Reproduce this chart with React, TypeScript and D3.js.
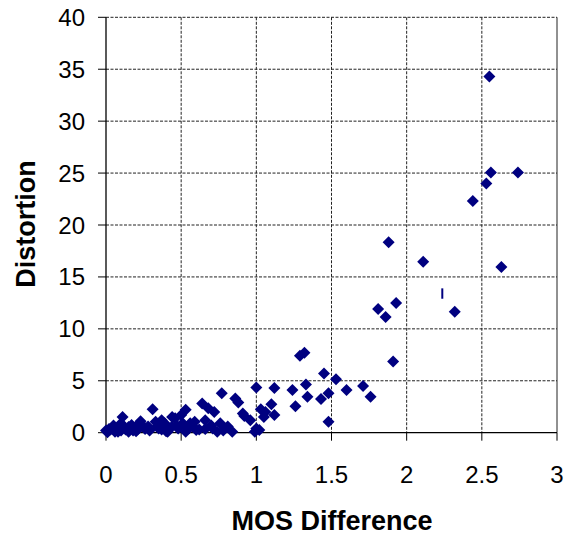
import React from "react";
import * as d3 from "d3";

const xTicks = [0, 0.5, 1, 1.5, 2, 2.5, 3];
const yTicks = [0, 5, 10, 15, 20, 25, 30, 35, 40];
const xTickLabels = ["0", "0.5", "1", "1.5", "2", "2.5", "3"];

const mosDiff = [
  0.0, 0.01, 0.03, 0.05, 0.06, 0.08, 0.10, 0.11, 0.13, 0.15, 0.17, 0.18, 0.21, 0.23, 0.25, 0.28, 0.29, 0.31, 0.33, 0.35,
  0.37, 0.39, 0.41, 0.44, 0.46, 0.48, 0.50, 0.51, 0.53, 0.53, 0.55, 0.56, 0.59, 0.60, 0.62, 0.64, 0.66, 0.68, 0.71, 0.72,
  0.74, 0.76, 0.77, 0.81, 0.86, 0.88, 0.91, 0.92, 0.96, 0.99, 1.00, 1.00, 1.02, 1.03, 1.05, 1.06, 1.10, 1.12, 1.12, 1.24,
  1.26, 1.29, 1.32, 1.33, 1.34, 1.43, 1.45, 1.48, 1.48, 1.53, 1.60, 1.71, 1.76, 1.81, 1.86, 1.88, 1.91, 1.93, 2.11, 2.32,
  2.44, 2.53, 2.55, 2.56, 2.63, 2.74,
  0.02, 0.06, 0.10, 0.15, 0.21, 0.26, 0.34, 0.37, 0.44, 0.58, 0.66, 0.70, 0.78, 0.84, 0.20, 0.40, 0.47, 0.12,
];
const distortion = [
  0.2, 0.05, 0.3, 0.7, 0.1, 0.1, 0.9, 1.5, 0.3, 0.1, 0.75, 0.2, 0.3, 1.1, 0.6, 0.6, 0.2, 2.25, 1.05, 0.4,
  1.2, 0.9, 0.1, 1.5, 1.4, 0.4, 1.7, 0.9, 2.2, 0.1, 0.4, 0.9, 1.05, 0.25, 0.3, 2.8, 1.2, 2.35, 0.4, 2.0,
  0.1, 0.9, 3.8, 0.6, 3.3, 2.9, 1.85, 1.6, 1.2, 0.1, 0.4, 4.35, 0.25, 2.25, 1.5, 2.0, 2.75, 1.7, 4.3, 4.1,
  2.55, 7.4, 7.7, 4.65, 3.45, 3.25, 5.7, 3.8, 1.05, 5.15, 4.1, 4.5, 3.45, 11.9, 11.15, 18.35, 6.85, 12.5, 16.45, 11.65,
  22.3, 24.0, 34.3, 25.05, 15.95, 25.05,
  0.35, 0.45, 0.2, 0.55, 0.75, 0.35, 0.6, 0.3, 0.6, 0.55, 0.35, 0.7, 0.2, 0.1, 0.15, 0.15, 0.7, 0.5,
];
// stray vertical dash mark in the reference
const dashX = [2.237];
const dashYLow = [12.9];
const dashYHigh = [13.9];

const W = 566;
const H = 535;
const left = 106;
const right = 557;
const top = 17.3;
const bottom = 432.7;

export default function App() {
  const x = d3.scaleLinear().domain([0, 3]).range([left, right]);
  const y = d3.scaleLinear().domain([0, 40]).range([bottom, top]);
  const diamond = "M0,-6L6,0L0,6L-6,0Z";
  const font = "Arial, 'Liberation Sans', sans-serif";

  return (
    <svg width={W} height={H} style={{ position: "absolute", left: 0, top: 0, background: "#fff" }} fontFamily={font}>
      {/* horizontal gridlines */}
      {yTicks.filter((t) => t > 0).map((t) => (
        <line key={"gy" + t} x1={left} x2={right} y1={y(t)} y2={y(t)} stroke="#222" strokeWidth={1} strokeDasharray="3,1.5" />
      ))}
      {/* vertical gridlines */}
      {xTicks.filter((t) => t > 0 && t < 3).map((t) => (
        <line key={"gx" + t} x1={x(t)} x2={x(t)} y1={top} y2={bottom} stroke="#222" strokeWidth={1} strokeDasharray="3,1.5" />
      ))}
      <line x1={right} x2={right} y1={top} y2={bottom} stroke="#222" strokeWidth={1} />
      {/* axes */}
      <line x1={left} x2={left} y1={top} y2={bottom} stroke="#000" strokeWidth={1.3} />
      <line x1={left} x2={right} y1={bottom} y2={bottom} stroke="#000" strokeWidth={1.3} />
      {yTicks.map((t) => (
        <g key={"ty" + t}>
          <line x1={left - 8} x2={left} y1={y(t)} y2={y(t)} stroke="#000" strokeWidth={1} />
          <text x={85} y={y(t) + 8.5} textAnchor="end" fontSize={24} fill="#000">{t}</text>
        </g>
      ))}
      {xTicks.map((t, i) => (
        <g key={"tx" + t}>
          <line x1={x(t)} x2={x(t)} y1={bottom} y2={bottom + 8} stroke="#000" strokeWidth={1} />
          <text x={x(t)} y={483} textAnchor="middle" fontSize={24} fill="#000">{xTickLabels[i]}</text>
        </g>
      ))}
      {/* points */}
      {mosDiff.map((v, i) => (
        <path key={"p" + i} d={diamond} transform={`translate(${x(v)},${y(distortion[i])})`} fill="#000080" />
      ))}
      {dashX.map((v, i) => (
        <line key={"d" + i} x1={x(v)} x2={x(v)} y1={y(dashYLow[i])} y2={y(dashYHigh[i])} stroke="#000080" strokeWidth={2} />
      ))}
      {/* axis titles */}
      <text x={332} y={530} textAnchor="middle" fontSize={27} fontWeight="bold" fill="#000">MOS Difference</text>
      <text transform={`translate(35,224) rotate(-90)`} textAnchor="middle" fontSize={27} fontWeight="bold" fill="#000">Distortion</text>
    </svg>
  );
}
